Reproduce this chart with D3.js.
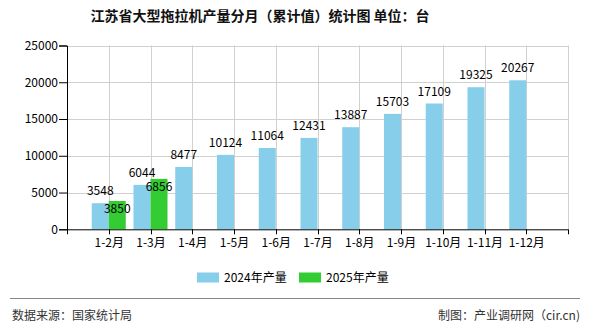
<!DOCTYPE html>
<html><head><meta charset="utf-8">
<script src="https://cdn.jsdelivr.net/npm/d3@7"></script>
<style>body{margin:0;background:#fff}svg{display:block}text{font-family:"Noto Sans CJK SC","Liberation Sans",sans-serif}</style>
</head><body><svg id="c" width="590" height="330"></svg>
<script>
const categories = ["1-2月","1-3月","1-4月","1-5月","1-6月","1-7月","1-8月","1-9月","1-10月","1-11月","1-12月"];
const values2024 = [3548,6044,8477,10124,11064,12431,13887,15703,17109,19325,20267];
const values2025 = [3850,6856];
const yTicks = [0,5000,10000,15000,20000,25000];
const seriesNames = ["2024年产量","2025年产量"];
const colors = ["#87CEEB","#33CC33"];
const title = "江苏省大型拖拉机产量分月（累计值）统计图 单位：台";

const svg = d3.select("#c");
const L=67, R=568, T=45.5, B=229.3;
const x = d3.scalePoint().domain(categories).range([L,R]).padding(1);
const step = x.step();
const y = d3.scaleLinear().domain([0,25000]).range([B,T]);
const bw = 17;

svg.append("text").attr("x",260).attr("y",21).attr("text-anchor","middle")
  .attr("font-size",14).attr("font-weight","bold").attr("fill","#111").text(title);

// grid
const g = svg.append("g");
g.selectAll(".hg").data(yTicks.slice(1)).join("line")
  .attr("x1",L).attr("x2",R).attr("y1",d=>Math.round(y(d))+0.5).attr("y2",d=>Math.round(y(d))+0.5)
  .attr("stroke","#d0d0d0");
const vgrid = categories.map(c=>x(c)).concat([R]);
g.selectAll(".vg").data(vgrid).join("line")
  .attr("x1",d=>Math.round(d)+0.5).attr("x2",d=>Math.round(d)+0.5).attr("y1",T).attr("y2",B)
  .attr("stroke","#d0d0d0");

// bars
g.selectAll(".b1").data(values2024).join("rect")
  .attr("x",(d,i)=>x(categories[i])-bw).attr("width",bw)
  .attr("y",d=>y(d)).attr("height",d=>B-y(d)).attr("fill",colors[0]);
g.selectAll(".b2").data(values2025).join("rect")
  .attr("x",(d,i)=>x(categories[i])).attr("width",bw)
  .attr("y",d=>y(d)).attr("height",d=>B-y(d)).attr("fill",colors[1]);

// axes
const ya = d3.axisLeft(y).tickValues(yTicks).tickSize(8).tickFormat(d=>d);
const yg = svg.append("g").attr("transform",`translate(${L},0)`).call(ya);
yg.select(".domain").attr("stroke","#000");
yg.selectAll(".tick line").attr("stroke","#000");
yg.selectAll(".tick text").attr("font-size",12).attr("fill","#000").attr("x",-9).attr("font-family",'"Liberation Sans",sans-serif');

const xa = d3.axisBottom(x).tickSize(0);
const xg = svg.append("g").attr("transform",`translate(0,${B})`).call(xa);
xg.select(".domain").attr("stroke","#000").attr("d",`M${L},0.5H${R}`);
xg.selectAll(".tick text").attr("font-size",12).attr("fill","#000").attr("dy","1.25em");
const tickPos = d3.range(13).map(i=>L+i*step);
xg.selectAll(".tk").data(tickPos).join("line")
  .attr("x1",d=>Math.round(d)+0.5).attr("x2",d=>Math.round(d)+0.5).attr("y1",0).attr("y2",5).attr("stroke","#000");

// labels
svg.selectAll(".l1").data(values2024).join("text")
  .attr("x",(d,i)=>x(categories[i])-bw/2).attr("y",d=>y(d)-8)
  .attr("text-anchor","middle").attr("font-size",12).attr("fill","#000")
  .attr("font-family",'"Liberation Sans",sans-serif').text(d=>d);
svg.selectAll(".l2").data(values2025).join("text")
  .attr("x",(d,i)=>x(categories[i])+bw/2).attr("y",d=>y(d)+12)
  .attr("text-anchor","middle").attr("font-size",12).attr("fill","#000")
  .attr("font-family",'"Liberation Sans",sans-serif').text(d=>d);

// legend
const lg = svg.append("g");
const lx = [197,299];
seriesNames.forEach((n,i)=>{
  lg.append("rect").attr("x",lx[i]).attr("y",272.5).attr("width",22).attr("height",10).attr("fill",colors[i]);
  lg.append("text").attr("x",lx[i]+27).attr("y",282).attr("font-size",12).attr("fill","#000").text(n);
});

// footer
svg.append("line").attr("x1",10).attr("x2",580).attr("y1",298.5).attr("y2",298.5).attr("stroke","#888");
svg.append("text").attr("x",12).attr("y",320).attr("font-size",12).attr("fill","#333").text("数据来源：国家统计局");
svg.append("text").attr("x",580).attr("y",320).attr("text-anchor","end").attr("font-size",12).attr("fill","#333").text("制图：产业调研网（cir.cn)");
</script></body></html>
